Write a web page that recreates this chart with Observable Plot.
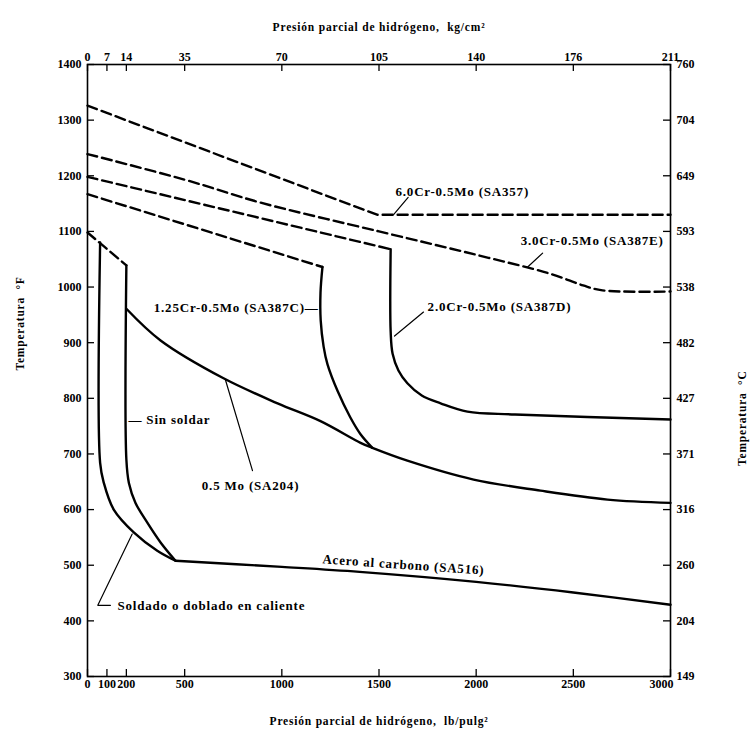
<!DOCTYPE html>
<html><head><meta charset="utf-8">
<script src="https://cdn.jsdelivr.net/npm/d3@7"></script>
<script src="https://cdn.jsdelivr.net/npm/@observablehq/plot@0.6"></script>
<style>
body{margin:0;background:#fff}
#chart svg g.lbl text{letter-spacing:0.8px}
</style>
</head><body><div id="chart"></div>
<script>
// Axis ticks (bottom in lb/pulg², top in kg/cm², left °F, right °C)
const psiTicks = [0, 100, 200, 500, 1000, 1500, 2000, 2500, 3000];
const kgLabels = ["0", "7", "14", "35", "70", "105", "140", "176", "211"];
const tempFTicks = [1400, 1300, 1200, 1100, 1000, 900, 800, 700, 600, 500, 400, 300];
const tempCLabels = ["760", "704", "649", "593", "538", "482", "427", "371", "316", "260", "204", "149"];

// Curves: [psi, °F]
const cr6Dashed = [[0, 1326], [1490, 1130], [3000, 1130]];
const cr3Dashed = [[0, 1239], [500, 1193], [888, 1152], [1500, 1100], [2000, 1058], [2380, 1024], [2550, 1003], [2650, 994], [3000, 992]];
const cr2Dashed = [[0, 1198], [1560, 1068]];
const cr2Solid = [[1560, 1068], [1560, 920], [1570, 880], [1600, 850], [1646, 827], [1720, 805], [1817, 791], [1955, 776], [2200, 771], [3000, 762]];
const cr125Dashed = [[0, 1167], [1209, 1036]];
const cr125Solid = [[1209, 1036], [1199, 990], [1200, 940], [1215, 893], [1235, 861], [1287, 813], [1352, 766], [1404, 736], [1466, 711]];
const csDashed = [[0, 1098], [200, 1039]];
const mo05Solid = [[200, 961], [376, 904], [700, 836], [978, 791], [1199, 759], [1405, 720], [1466, 711], [1646, 688], [1987, 654], [2331, 634], [2676, 618], [3000, 612]];
const carbonSolid = [[453, 508], [1000, 497], [1400, 488], [2000, 470], [2500, 451], [3000, 429]];
const weldedSolid = [[65, 1080], [65, 684], [84, 648], [135, 600], [238, 559], [359, 526], [453, 508]];
const unweldedSolid = [[200, 1039], [200, 690], [213, 648], [247, 612], [307, 577], [376, 541], [453, 508]];

// Annotations
const labelText = ["6.0Cr-0.5Mo (SA357)", "3.0Cr-0.5Mo (SA387E)", "2.0Cr-0.5Mo (SA387D)", "1.25Cr-0.5Mo (SA387C)—", "— Sin soldar", "0.5 Mo (SA204)", "Soldado o doblado en caliente", "Acero al carbono (SA516)"];
const labelPsi = [1585, 2229, 1750, 1189, 211, 839, 154, 1209];
const labelTemp = [1171, 1083, 964, 962, 761, 643, 427, 511];
const labelAnchor = ["start", "start", "start", "end", "start", "middle", "start", "start"];
const labelRotate = [0, 0, 0, 0, 0, 0, 0, 4];
const leaders = [
  [[1650, 1161], [1575, 1130]],
  [[2342, 1061], [2265, 1036]],
  [[1729, 955], [1580, 912]],
  [[849, 670], [710, 833]],
  [[230, 556], [53, 428], [118, 428]]
];

const labels = labelText.map((t, i) => ({text: t, x: labelPsi[i], y: labelTemp[i], anchor: labelAnchor[i], rotate: labelRotate[i]}));
const leaderRows = leaders.flatMap((pts, k) => pts.map(p => ({x: p[0], y: p[1], k})));

const W = 750, H = 733, mt = 64, mb = 57, ml = 87, mr = 80;
const pw = W - ml - mr, ph = H - mt - mb;
const font = "Liberation Serif, Times New Roman, serif";
const dash = "10,5";
const sw = 2.4;
const tf = 12;
const xy = {x: d => d[0], y: d => d[1]};
const lab = a => Plot.text(labels.filter(d => d.anchor === a), {x: "x", y: "y", text: "text", textAnchor: a, rotate: "rotate", fontSize: 13, fontWeight: "bold", className: "lbl"});

const chart = Plot.plot({
  width: W, height: H,
  marginTop: mt, marginBottom: mb, marginLeft: ml, marginRight: mr,
  style: {fontFamily: font, fontWeight: "bold", background: "white"},
  x: {domain: [0, 3000], axis: null},
  y: {domain: [300, 1400], axis: null},
  marks: [
    Plot.frame({stroke: "black", strokeWidth: 1.6}),
    // inward ticks
    Plot.ruleX(psiTicks, {x: d => d, insetTop: ph - 7, stroke: "black", strokeWidth: 1.3}),
    Plot.ruleX(psiTicks, {x: d => d, insetBottom: ph - 7, stroke: "black", strokeWidth: 1.3}),
    Plot.ruleY(tempFTicks, {y: d => d, insetRight: pw - 7, stroke: "black", strokeWidth: 1.3}),
    Plot.ruleY(tempFTicks, {y: d => d, insetLeft: pw - 7, stroke: "black", strokeWidth: 1.3}),
    // tick labels
    Plot.text(psiTicks.slice(0, -1), {x: d => d, frameAnchor: "bottom", dy: 11, text: d => String(d), fontSize: tf, fontWeight: "bold"}),
    Plot.text(psiTicks.slice(-1), {x: d => d, frameAnchor: "bottom", dy: 11, dx: 3, textAnchor: "end", text: d => String(d), fontSize: tf, fontWeight: "bold"}),
    Plot.text(psiTicks, {x: d => d, frameAnchor: "top", dy: -12, text: (d, i) => kgLabels[i], fontSize: tf, fontWeight: "bold"}),
    Plot.text(tempFTicks, {y: d => d, frameAnchor: "left", dx: -6, textAnchor: "end", text: d => String(d), fontSize: tf, fontWeight: "bold"}),
    Plot.text(tempFTicks, {y: d => d, frameAnchor: "right", dx: 6, textAnchor: "start", text: (d, i) => tempCLabels[i], fontSize: tf, fontWeight: "bold"}),
    // axis titles
    Plot.text(["Presión parcial de hidrógeno,  kg/cm²"], {frameAnchor: "top", dy: -42, fontSize: 11.5, fontWeight: "bold", className: "lbl"}),
    Plot.text(["Presión parcial de hidrógeno,  lb/pulg²"], {frameAnchor: "bottom", dy: 48, fontSize: 11.5, fontWeight: "bold", className: "lbl"}),
    Plot.text(["Temperatura  °F"], {frameAnchor: "left", dx: -67, rotate: -90, fontSize: 11.5, fontWeight: "bold", className: "lbl"}),
    Plot.text(["Temperatura  °C"], {frameAnchor: "right", dx: 72, rotate: -90, fontSize: 11.5, fontWeight: "bold", className: "lbl"}),
    // dashed curves
    Plot.line(cr6Dashed, {...xy, stroke: "black", strokeWidth: sw, strokeDasharray: dash}),
    Plot.line(cr3Dashed, {...xy, stroke: "black", strokeWidth: sw, strokeDasharray: dash, curve: "catmull-rom"}),
    Plot.line(cr2Dashed, {...xy, stroke: "black", strokeWidth: sw, strokeDasharray: dash}),
    Plot.line(cr125Dashed, {...xy, stroke: "black", strokeWidth: sw, strokeDasharray: dash}),
    Plot.line(csDashed, {...xy, stroke: "black", strokeWidth: sw, strokeDasharray: dash}),
    // solid curves
    Plot.line(cr2Solid, {...xy, stroke: "black", strokeWidth: sw, curve: "catmull-rom"}),
    Plot.line(cr125Solid, {...xy, stroke: "black", strokeWidth: sw, curve: "catmull-rom"}),
    Plot.line(mo05Solid, {...xy, stroke: "black", strokeWidth: sw, curve: "catmull-rom"}),
    Plot.line(carbonSolid, {...xy, stroke: "black", strokeWidth: sw, curve: "catmull-rom"}),
    Plot.line(weldedSolid, {...xy, stroke: "black", strokeWidth: sw, curve: "catmull-rom"}),
    Plot.line(unweldedSolid, {...xy, stroke: "black", strokeWidth: sw, curve: "catmull-rom"}),
    // leaders
    Plot.line(leaderRows, {x: "x", y: "y", z: "k", stroke: "black", strokeWidth: 1.2}),
    // labels
    lab("start"), lab("end"), lab("middle")
  ]
});
document.getElementById("chart").appendChild(chart);
</script>
</body></html>
